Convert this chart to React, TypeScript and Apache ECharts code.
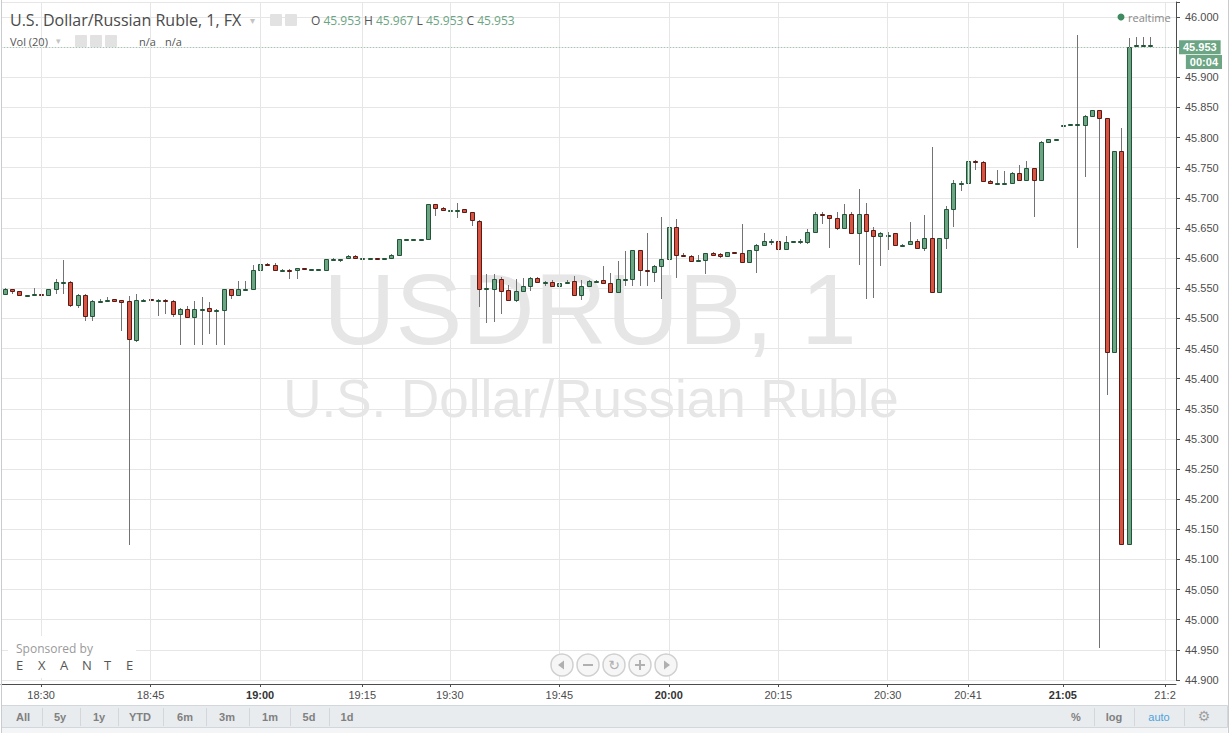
import React, { useEffect, useRef } from 'react';
import * as echarts from 'echarts';

// ---- data (1-minute candles, USD/RUB) ----
const opens = [
  45.540, 45.548, 45.545, 45.538, 45.538, 45.540, 45.538, 45.548, 45.561, 45.561,
  45.523, 45.539, 45.504, 45.529, 45.531, 45.532, 45.530, 45.529, 45.464, 45.531,
  45.532, 45.529, 45.531, 45.529, 45.508, 45.515, 45.503, 45.516, 45.517, 45.514,
  45.514, 45.548, 45.538, 45.548, 45.548, 45.581, 45.591, 45.588, 45.580, 45.581,
  45.580, 45.583, 45.582, 45.582, 45.580, 45.598, 45.598, 45.600, 45.604, 45.600,
  45.600, 45.601, 45.600, 45.600, 45.606, 45.631, 45.631, 45.631, 45.631, 45.689,
  45.684, 45.680, 45.680, 45.681, 45.676, 45.662, 45.549, 45.549, 45.565, 45.547,
  45.530, 45.545, 45.553, 45.567, 45.561, 45.561, 45.553, 45.561, 45.562, 45.538,
  45.553, 45.562, 45.563, 45.558, 45.544, 45.566, 45.566, 45.613, 45.581, 45.577,
  45.587, 45.598, 45.651, 45.606, 45.603, 45.597, 45.597, 45.609, 45.607, 45.604,
  45.610, 45.609, 45.593, 45.613, 45.621, 45.628, 45.628, 45.615, 45.628, 45.628,
  45.627, 45.644, 45.674, 45.671, 45.666, 45.650, 45.674, 45.641, 45.674, 45.647,
  45.637, 45.639, 45.641, 45.622, 45.623, 45.628, 45.617, 45.633, 45.543, 45.633,
  45.681, 45.724, 45.724, 45.762, 45.760, 45.728, 45.725, 45.725, 45.724, 45.742,
  45.729, 45.749, 45.729, 45.793, 45.797, 45.821, 45.822, 45.822, 45.821, 45.836,
  45.845, 45.832, 45.444, 45.777, 45.125, 45.953, 45.953, 45.953,
];
const closes = [
  45.548, 45.545, 45.538, 45.538, 45.540, 45.538, 45.548, 45.561, 45.561, 45.523,
  45.539, 45.504, 45.529, 45.529, 45.531, 45.529, 45.528, 45.465, 45.530, 45.531,
  45.530, 45.531, 45.529, 45.508, 45.515, 45.503, 45.515, 45.516, 45.513, 45.514,
  45.548, 45.538, 45.548, 45.548, 45.581, 45.591, 45.588, 45.580, 45.580, 45.580,
  45.583, 45.582, 45.582, 45.582, 45.598, 45.598, 45.599, 45.604, 45.600, 45.600,
  45.600, 45.600, 45.600, 45.606, 45.631, 45.631, 45.631, 45.631, 45.689, 45.684,
  45.680, 45.680, 45.680, 45.677, 45.663, 45.548, 45.550, 45.565, 45.545, 45.530,
  45.546, 45.553, 45.567, 45.560, 45.561, 45.553, 45.559, 45.561, 45.538, 45.553,
  45.562, 45.562, 45.559, 45.544, 45.566, 45.566, 45.613, 45.581, 45.578, 45.587,
  45.598, 45.652, 45.606, 45.603, 45.596, 45.597, 45.608, 45.606, 45.604, 45.610,
  45.608, 45.593, 45.613, 45.622, 45.628, 45.628, 45.615, 45.627, 45.628, 45.628,
  45.644, 45.674, 45.671, 45.666, 45.650, 45.674, 45.641, 45.674, 45.645, 45.637,
  45.641, 45.639, 45.621, 45.622, 45.628, 45.617, 45.633, 45.543, 45.633, 45.681,
  45.724, 45.724, 45.762, 45.760, 45.728, 45.725, 45.725, 45.725, 45.742, 45.729,
  45.749, 45.729, 45.793, 45.797, 45.797, 45.821, 45.822, 45.822, 45.836, 45.845,
  45.832, 45.444, 45.777, 45.125, 45.950, 45.953, 45.953, 45.953,
];
const lows = [
  45.538, 45.541, 45.537, 45.538, 45.538, 45.537, 45.537, 45.541, 45.541, 45.519,
  45.518, 45.496, 45.496, 45.525, 45.528, 45.528, 45.479, 45.124, 45.461, 45.529,
  45.529, 45.504, 45.507, 45.503, 45.456, 45.502, 45.456, 45.456, 45.474, 45.456,
  45.456, 45.532, 45.537, 45.547, 45.547, 45.562, 45.587, 45.579, 45.578, 45.565,
  45.565, 45.581, 45.582, 45.582, 45.578, 45.597, 45.594, 45.600, 45.599, 45.600,
  45.600, 45.600, 45.600, 45.599, 45.605, 45.631, 45.631, 45.631, 45.630, 45.670,
  45.679, 45.677, 45.666, 45.676, 45.653, 45.519, 45.492, 45.494, 45.507, 45.529,
  45.527, 45.544, 45.545, 45.559, 45.553, 45.552, 45.552, 45.560, 45.537, 45.530,
  45.552, 45.560, 45.558, 45.543, 45.543, 45.553, 45.553, 45.554, 45.554, 45.560,
  45.533, 45.570, 45.567, 45.602, 45.595, 45.596, 45.573, 45.605, 45.601, 45.603,
  45.607, 45.592, 45.592, 45.575, 45.620, 45.622, 45.614, 45.614, 45.627, 45.624,
  45.623, 45.643, 45.656, 45.616, 45.646, 45.649, 45.640, 45.589, 45.532, 45.534,
  45.587, 45.613, 45.620, 45.621, 45.622, 45.616, 45.612, 45.542, 45.542, 45.615,
  45.651, 45.712, 45.717, 45.746, 45.727, 45.724, 45.724, 45.724, 45.723, 45.728,
  45.728, 45.669, 45.728, 45.792, 45.797, 45.821, 45.822, 45.617, 45.734, 45.835,
  44.953, 45.373, 45.443, 45.124, 45.124, 45.953, 45.952, 45.953,
];
const highs = [
  45.550, 45.549, 45.546, 45.538, 45.550, 45.554, 45.549, 45.566, 45.597, 45.562,
  45.540, 45.540, 45.530, 45.533, 45.535, 45.533, 45.531, 45.537, 45.540, 45.533,
  45.533, 45.532, 45.532, 45.530, 45.518, 45.521, 45.529, 45.535, 45.527, 45.516,
  45.549, 45.549, 45.562, 45.562, 45.589, 45.595, 45.592, 45.592, 45.582, 45.582,
  45.584, 45.583, 45.582, 45.582, 45.599, 45.601, 45.599, 45.605, 45.605, 45.600,
  45.600, 45.601, 45.600, 45.607, 45.632, 45.631, 45.631, 45.631, 45.690, 45.690,
  45.685, 45.683, 45.691, 45.682, 45.677, 45.663, 45.573, 45.573, 45.568, 45.556,
  45.565, 45.567, 45.568, 45.569, 45.562, 45.563, 45.560, 45.563, 45.570, 45.563,
  45.564, 45.564, 45.587, 45.575, 45.595, 45.612, 45.614, 45.614, 45.641, 45.588,
  45.668, 45.660, 45.665, 45.609, 45.605, 45.606, 45.609, 45.610, 45.609, 45.611,
  45.611, 45.657, 45.614, 45.623, 45.641, 45.632, 45.629, 45.636, 45.629, 45.631,
  45.648, 45.677, 45.676, 45.672, 45.676, 45.690, 45.676, 45.715, 45.691, 45.652,
  45.644, 45.644, 45.642, 45.623, 45.660, 45.632, 45.671, 45.785, 45.634, 45.687,
  45.730, 45.728, 45.763, 45.763, 45.761, 45.729, 45.747, 45.745, 45.743, 45.754,
  45.761, 45.750, 45.794, 45.798, 45.797, 45.821, 45.822, 45.970, 45.837, 45.846,
  45.846, 45.833, 45.778, 45.816, 45.965, 45.967, 45.967, 45.967,
];

// time axis: slot positions of labelled minutes
const slotCount = 161;
const tickIndex = [5, 20, 35, 49, 61, 76, 91, 106, 121, 132, 145, 159];
const tickLabels = ['18:30', '18:45', '19:00', '19:15', '19:30', '19:45', '20:00', '20:15', '20:30', '20:41', '21:05', '21:2'];
const boldLabels = ['19:00', '20:00', '21:05'];

const rangeButtons = ['All', '5y', '1y', 'YTD', '6m', '3m', '1m', '5d', '1d'];
const scaleButtons = ['%', 'log', 'auto'];

const FONT_UI = '"Liberation Sans", Arial, Helvetica, sans-serif';
const FONT_TITLE = '"Open Sans", "Liberation Sans", sans-serif';
const FONT_SYM = '"DejaVu Sans", sans-serif';

const UP_FILL = '#6ba583';
const UP_LINE = '#225437';
const DOWN_FILL = '#d75442';
const DOWN_LINE = '#5b1a13';
const WICK = '#737375';

function buildOption() {
  const categories: string[] = [];
  for (let i = 0; i < slotCount; i++) {
    const k = tickIndex.indexOf(i);
    categories.push(k >= 0 ? tickLabels[k] : '');
  }
  const candleData = opens.map((o, i) => [i, o, closes[i], lows[i], highs[i]]);
  const last = candleData.length - 1;
  const lastPrice = closes[last];
  const isTick = (i: number) => tickIndex.indexOf(i) >= 0;

  const rangeX = [23, 60, 99, 140, 185, 227, 270, 309, 347];
  const rangeDiv = [42, 80, 118, 163, 206, 249, 290, 329];
  const scaleX = [1076, 1114, 1159];
  const scaleDiv = [1094, 1134, 1184];
  const navX = [562, 588, 614, 640, 666];

  const graphic: any[] = [
    // watermark
    {
      type: 'text', x: 590, y: 309, z: -10, silent: true,
      style: { text: 'USDRUB, 1', fill: '#e6e6e6', font: `100px ${FONT_UI}`, align: 'center', verticalAlign: 'middle' },
    },
    {
      type: 'text', x: 591, y: 398, z: -10, silent: true,
      style: { text: 'U.S. Dollar/Russian Ruble', fill: '#e6e6e6', font: `53px ${FONT_UI}`, align: 'center', verticalAlign: 'middle' },
    },
    // header
    {
      type: 'text', x: 10, y: 20, z: 20,
      style: { text: 'U.S. Dollar/Russian Ruble, 1, FX', fill: '#4a4a4a', font: `16px ${FONT_TITLE}`, verticalAlign: 'middle' },
    },
    { type: 'text', x: 250, y: 20, z: 20, style: { text: '▾', fill: '#c4c4c4', font: `10px ${FONT_SYM}`, verticalAlign: 'middle' } },
    { type: 'rect', z: 20, shape: { x: 270, y: 14, width: 12, height: 12, r: 1 }, style: { fill: '#e2e2e2' } },
    { type: 'rect', z: 20, shape: { x: 285, y: 14, width: 12, height: 12, r: 1 }, style: { fill: '#e2e2e2' } },
    {
      type: 'text', x: 311, y: 20, z: 20,
      style: {
        text: `{l|O} {v|${opens[last].toFixed(3)}} {l|H} {v|${highs[last].toFixed(3)}} {l|L} {v|${lows[last].toFixed(3)}} {l|C} {v|${closes[last].toFixed(3)}}`,
        font: `12px ${FONT_TITLE}`, verticalAlign: 'middle',
        rich: {
          l: { fill: '#555555', fontSize: 12, fontFamily: FONT_TITLE },
          v: { fill: '#6ba583', fontSize: 12, fontFamily: FONT_TITLE },
        },
      },
    },
    { type: 'text', x: 10, y: 41, z: 20, style: { text: 'Vol (20)', fill: '#555555', font: `11px ${FONT_TITLE}`, verticalAlign: 'middle' } },
    { type: 'text', x: 56, y: 41, z: 20, style: { text: '▾', fill: '#c4c4c4', font: `9px ${FONT_SYM}`, verticalAlign: 'middle' } },
    { type: 'rect', z: 20, shape: { x: 75, y: 35, width: 12, height: 12, r: 1 }, style: { fill: '#e2e2e2' } },
    { type: 'rect', z: 20, shape: { x: 90, y: 35, width: 12, height: 12, r: 1 }, style: { fill: '#e2e2e2' } },
    { type: 'rect', z: 20, shape: { x: 105, y: 35, width: 12, height: 12, r: 1 }, style: { fill: '#e2e2e2' } },
    { type: 'text', x: 139, y: 41, z: 20, style: { text: 'n/a', fill: '#555555', font: `11px ${FONT_TITLE}`, verticalAlign: 'middle' } },
    { type: 'text', x: 165, y: 41, z: 20, style: { text: 'n/a', fill: '#555555', font: `11px ${FONT_TITLE}`, verticalAlign: 'middle' } },
    // realtime
    { type: 'circle', z: 20, shape: { cx: 1121, cy: 17, r: 3.5 }, style: { fill: '#3f8a5e' } },
    { type: 'text', x: 1128, y: 17, z: 20, style: { text: 'realtime', fill: '#888888', font: `11px ${FONT_TITLE}`, verticalAlign: 'middle' } },
    // countdown tag
    {
      type: 'text', x: 1222, y: 62, z: 20,
      style: {
        text: '00:04', fill: '#ffffff', font: `bold 11px ${FONT_UI}`, align: 'right', verticalAlign: 'middle',
        backgroundColor: '#6ba583', padding: [2, 4, 1, 4],
      },
    },
    // sponsor box
    { type: 'rect', z: 15, shape: { x: 8, y: 636, width: 128, height: 42 }, style: { fill: '#ffffff' } },
    { type: 'text', x: 16, y: 648, z: 16, style: { text: 'Sponsored by', fill: '#9a9a9a', font: `12px ${FONT_TITLE}`, verticalAlign: 'middle' } },
    ...['E', 'X', 'A', 'N', 'T', 'E'].map((ch, k) => ({
      type: 'text', x: 16 + k * 22, y: 665, z: 16,
      style: { text: ch, fill: '#555555', font: `13px ${FONT_TITLE}`, verticalAlign: 'middle' },
    })),
    // navigation buttons
    ...navX.map((cx) => ({
      type: 'circle', z: 16, shape: { cx, cy: 665, r: 11 },
      style: { fill: '#f6f6f6', stroke: '#d0d0d0', lineWidth: 1.5 },
    })),
    { type: 'polygon', z: 17, shape: { points: [[558, 665], [564, 660.5], [564, 669.5]] }, style: { fill: '#b0b0b0' } },
    { type: 'rect', z: 17, shape: { x: 583, y: 664, width: 10, height: 2 }, style: { fill: '#b0b0b0' } },
    { type: 'text', x: 614, y: 665, z: 17, style: { text: '↻', fill: '#b0b0b0', font: `14px ${FONT_SYM}`, align: 'center', verticalAlign: 'middle' } },
    { type: 'rect', z: 17, shape: { x: 635, y: 664, width: 10, height: 2 }, style: { fill: '#b0b0b0' } },
    { type: 'rect', z: 17, shape: { x: 639, y: 660, width: 2, height: 10 }, style: { fill: '#b0b0b0' } },
    { type: 'polygon', z: 17, shape: { points: [[670, 665], [664, 660.5], [664, 669.5]] }, style: { fill: '#b0b0b0' } },
    // bottom toolbar
    { type: 'rect', z: 20, shape: { x: 1.5, y: 705.5, width: 1226, height: 22 }, style: { fill: '#e9ecef', stroke: '#d3d7db', lineWidth: 1 } },
    { type: 'rect', z: 20, shape: { x: 1.5, y: 728, width: 1226, height: 5 }, style: { fill: '#f4f5f6' } },
    ...rangeButtons.map((t, k) => ({
      type: 'text', x: rangeX[k], y: 716.5, z: 21,
      style: { text: t, fill: '#808080', font: `bold 11px ${FONT_UI}`, align: 'center', verticalAlign: 'middle' },
    })),
    ...rangeDiv.concat(scaleDiv).map((x) => ({
      type: 'line', z: 21, shape: { x1: x + 0.5, y1: 708, x2: x + 0.5, y2: 726 },
      style: { stroke: '#d3d7db', lineWidth: 1 },
    })),
    ...scaleButtons.map((t, k) => ({
      type: 'text', x: scaleX[k], y: 716.5, z: 21,
      style: {
        text: t, fill: t === 'auto' ? '#4da2dd' : '#808080',
        font: `${t === 'auto' ? '' : 'bold '}11px ${FONT_UI}`, align: 'center', verticalAlign: 'middle',
      },
    })),
    { type: 'text', x: 1204, y: 716, z: 21, style: { text: '⚙', fill: '#a0a0a0', font: `14px ${FONT_SYM}`, align: 'center', verticalAlign: 'middle' } },
    // outer frame
    { type: 'line', z: 22, shape: { x1: 1.5, y1: 0, x2: 1.5, y2: 733 }, style: { stroke: '#c8cccf', lineWidth: 1 } },
    { type: 'line', z: 22, shape: { x1: 1228.5, y1: 0, x2: 1228.5, y2: 733 }, style: { stroke: '#c8cccf', lineWidth: 1 } },
  ];

  return {
    animation: false,
    backgroundColor: '#ffffff',
    grid: { left: 1, right: 54, top: 2, bottom: 53, containLabel: false },
    xAxis: {
      type: 'category',
      data: categories,
      boundaryGap: true,
      offset: 4,
      axisLine: { show: true, lineStyle: { color: '#4d4d4d', width: 1 } },
      axisTick: { show: true, alignWithLabel: true, interval: (i: number) => isTick(i), length: 3, lineStyle: { color: '#4d4d4d' } },
      axisLabel: {
        interval: (i: number) => isTick(i),
        color: '#4d4d4d', fontSize: 11, fontFamily: FONT_UI, margin: 5,
        formatter: (v: string) => (boldLabels.indexOf(v) >= 0 ? `{b|${v}}` : v),
        rich: { b: { fontWeight: 'bold', fontSize: 11, fontFamily: FONT_UI, color: '#333333' } },
      },
      splitLine: { show: false },
    },
    yAxis: {
      type: 'value',
      position: 'right',
      min: 44.9,
      max: 46.025,
      interval: 0.05,
      axisLine: { show: true, lineStyle: { color: '#4d4d4d', width: 1 } },
      axisTick: { show: true, length: 4, lineStyle: { color: '#4d4d4d' } },
      axisLabel: {
        color: '#4d4d4d', fontSize: 11, fontFamily: FONT_UI, margin: 9,
        formatter: (v: number) => {
          const r = Math.round(v * 1000) / 1000;
          if (Math.abs(r * 20 - Math.round(r * 20)) > 1e-6) return '';
          if (Math.abs(r - 45.95) < 1e-6) return '';
          return r.toFixed(3);
        },
      },
      splitLine: { show: true, lineStyle: { color: '#e6e6e6', width: 1 } },
    },
    series: [
      {
        type: 'line',
        data: [],
        z: 1,
        silent: true,
        markLine: {
          silent: true,
          animation: false,
          symbol: ['none', 'none'],
          label: { show: false },
          lineStyle: { color: '#e6e6e6', type: 'solid', width: 1 },
          data: [
            ...tickIndex.map((i) => ({ xAxis: i })),
            {
              yAxis: lastPrice,
              lineStyle: { color: '#9ccbb0', type: [1, 2], width: 1 },
              label: {
                show: true, position: 'end', distance: 3,
                formatter: lastPrice.toFixed(3),
                color: '#ffffff', fontSize: 11, fontWeight: 'bold', fontFamily: FONT_UI,
                backgroundColor: '#6ba583', padding: [2, 4, 1, 4],
              },
            },
          ],
        },
      },
      {
        type: 'custom',
        z: 3,
        data: candleData,
        encode: { x: 0, y: [1, 2, 3, 4] },
        renderItem: (params: any, api: any) => {
          const i = api.value(0);
          const o = api.value(1);
          const c = api.value(2);
          const l = api.value(3);
          const h = api.value(4);
          const pTop = api.coord([i, Math.max(o, c)]);
          const pBot = api.coord([i, Math.min(o, c)]);
          const pHi = api.coord([i, h]);
          const pLo = api.coord([i, l]);
          const cx = Math.round(pTop[0]);
          const up = c >= o;
          const yTop = Math.round(pTop[1]);
          const yBot = Math.max(Math.round(pBot[1]), yTop + 1);
          return {
            type: 'group',
            children: [
              {
                type: 'line',
                shape: { x1: cx + 0.5, y1: Math.round(pHi[1]), x2: cx + 0.5, y2: Math.round(pLo[1]) },
                style: { stroke: WICK, lineWidth: 1 },
              },
              {
                type: 'rect',
                shape: { x: cx - 1.5, y: yTop + 0.5, width: 4, height: yBot - yTop },
                style: { fill: up ? UP_FILL : DOWN_FILL, stroke: up ? UP_LINE : DOWN_LINE, lineWidth: 1 },
              },
            ],
          };
        },
      },
    ],
    graphic,
  };
}

export default function App() {
  const ref = useRef<HTMLDivElement>(null);
  useEffect(() => {
    if (!ref.current) return;
    const chart = echarts.init(ref.current, undefined, { renderer: 'svg' });
    chart.setOption(buildOption() as any);
    return () => chart.dispose();
  }, []);
  return (
    <div
      ref={ref}
      style={{ position: 'fixed', left: 0, top: 0, width: 1230, height: 733, background: '#ffffff' }}
    />
  );
}
